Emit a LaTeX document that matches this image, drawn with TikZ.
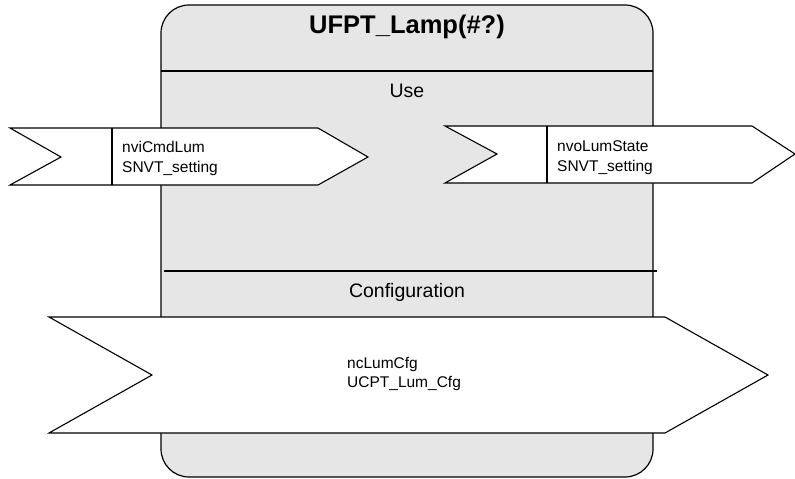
\documentclass[tikz,border=0pt]{standalone}
\usepackage{fontspec}
\setmainfont{Liberation Sans}
\definecolor{boxgray}{HTML}{E6E6E6}
\tikzset{
  outline/.style={draw=black, line width=1.2pt, line join=miter},
  portshape/.style={draw=black, fill=white, line width=1.1pt, line join=miter},
  divider/.style={draw=black, line width=1.1pt},
  small/.style={font=\fontsize{15.5}{19}\selectfont, inner sep=0pt, anchor=base west},
  section/.style={font=\fontsize{19.5}{23}\selectfont, inner sep=0pt, anchor=base},
  title/.style={font=\bfseries\fontsize{25.5}{30}\selectfont, inner sep=0pt, anchor=base}
}
\begin{document}
\begin{tikzpicture}[x=1pt,y=-1pt]
\useasboundingbox (0,0) rectangle (795,479);
% block body
\draw[outline, fill=boxgray, rounded corners=28pt] (161,5) rectangle (653,477);
\draw[outline] (161,71) -- (653,71);
\draw[outline] (164,271) -- (657,271);
\node[title] (ttl) at (407,33) {UFPT\_Lamp(\#?)};
\node[section] (use) at (407,97) {Use};
\node[section] (cfg) at (407,297) {Configuration};
% input nv
\draw[portshape] (10,128) -- (318,128) -- (368,157) -- (318,185) -- (10,185) -- (61,157) -- cycle;
\draw[divider] (112,128) -- (112,185);
\node[small] (in1) at (122,152) {nviCmdLum};
\node[small] (in2) at (122,172) {SNVT\_setting};
% output nv
\draw[portshape] (445,126) -- (752,126) -- (795,154) -- (752,183) -- (445,183) -- (497,154) -- cycle;
\draw[divider] (547,126) -- (547,183);
\node[small] (out1) at (557,151) {nvoLumState};
\node[small] (out2) at (557,171) {SNVT\_setting};
% config property
\draw[portshape] (49,317) -- (665,317) -- (768,375) -- (665,433) -- (49,433) -- (152,375) -- cycle;
\node[small] (cp1) at (347,368) {ncLumCfg};
\node[small] (cp2) at (347,387) {UCPT\_Lum\_Cfg};
\end{tikzpicture}
\end{document}
